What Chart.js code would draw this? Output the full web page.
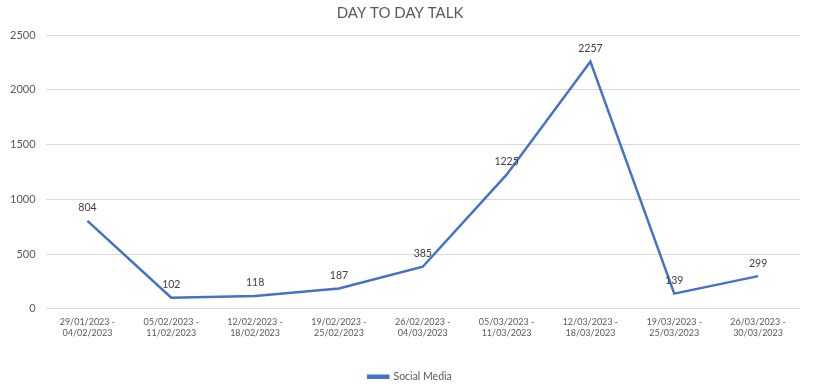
<!DOCTYPE html>
<html>
<head>
<meta charset="utf-8">
<script src="https://cdn.jsdelivr.net/npm/chart.js@4/dist/chart.umd.min.js"></script>
<style>
html,body{margin:0;padding:0;background:#fff;}
#wrap{width:816px;height:384px;}
</style>
</head>
<body>
<div id="wrap"><canvas id="c" width="816" height="384"></canvas></div>
<script>
const categories = [
  ['29/01/2023 -','04/02/2023'],
  ['05/02/2023 -','11/02/2023'],
  ['12/02/2023 -','18/02/2023'],
  ['19/02/2023 -','25/02/2023'],
  ['26/02/2023 -','04/03/2023'],
  ['05/03/2023 -','11/03/2023'],
  ['12/03/2023 -','18/03/2023'],
  ['19/03/2023 -','25/03/2023'],
  ['26/03/2023 -','30/03/2023']
];
const socialMedia = [804, 102, 118, 187, 385, 1225, 2257, 139, 299];
const seriesName = 'Social Media';
const chartTitle = 'DAY TO DAY TALK';

const FONT = 'Lato, "Open Sans", sans-serif';
const GREY = '#595959';
const BLUE = '#4472C4';

const dataLabels = {
  id: 'dataLabels',
  afterDatasetsDraw(chart) {
    const ctx = chart.ctx;
    const meta = chart.getDatasetMeta(0);
    ctx.save();
    ctx.font = '10.5px ' + FONT;
    ctx.fillStyle = '#404040';
    ctx.textAlign = 'center';
    ctx.textBaseline = 'middle';
    meta.data.forEach((pt, i) => {
      ctx.fillText(String(chart.data.datasets[0].data[i]), pt.x, pt.y - 13);
    });
    ctx.restore();
  }
};

const legendShift = {
  id: 'legendShift',
  afterLayout(chart) {
    if (chart.legend) {
      chart.legend.top += 8; chart.legend.bottom += 8;
      chart.legend.left += 10; chart.legend.right += 10;
    }
  }
};

new Chart(document.getElementById('c'), {
  type: 'line',
  data: {
    labels: categories,
    datasets: [{
      label: seriesName,
      data: socialMedia,
      borderColor: BLUE,
      backgroundColor: BLUE,
      borderWidth: 2.5,
      pointRadius: 0,
      tension: 0
    }]
  },
  options: {
    responsive: false,
    animation: false,
    layout: { padding: { left: 0, right: 16, top: 0, bottom: 0 } },
    plugins: {
      title: {
        display: true,
        text: chartTitle,
        color: GREY,
        font: { family: FONT, size: 15, weight: 'normal' },
        padding: { top: 4, bottom: 13 }
      },
      legend: {
        position: 'bottom',
        labels: {
          color: GREY,
          font: { family: FONT, size: 10.5 },
          boxWidth: 20,
          boxHeight: 2,
          padding: 2
        }
      },
      tooltip: { enabled: false }
    },
    scales: {
      x: {
        offset: true,
        grid: { display: false },
        border: { display: false },
        ticks: { color: GREY, font: { family: FONT, size: 9 }, maxRotation: 0, autoSkip: false, padding: 0 },
        afterFit(scale) { scale.height += 23; }
      },
      y: {
        min: 0,
        max: 2500,
        ticks: { stepSize: 500, color: GREY, font: { family: FONT, size: 11 }, padding: 10,
                 callback: (v) => String(v) },
        grid: { color: '#D9D9D9', drawTicks: false },
        border: { display: false }
      }
    }
  },
  plugins: [dataLabels, legendShift]
});
</script>
</body>
</html>
